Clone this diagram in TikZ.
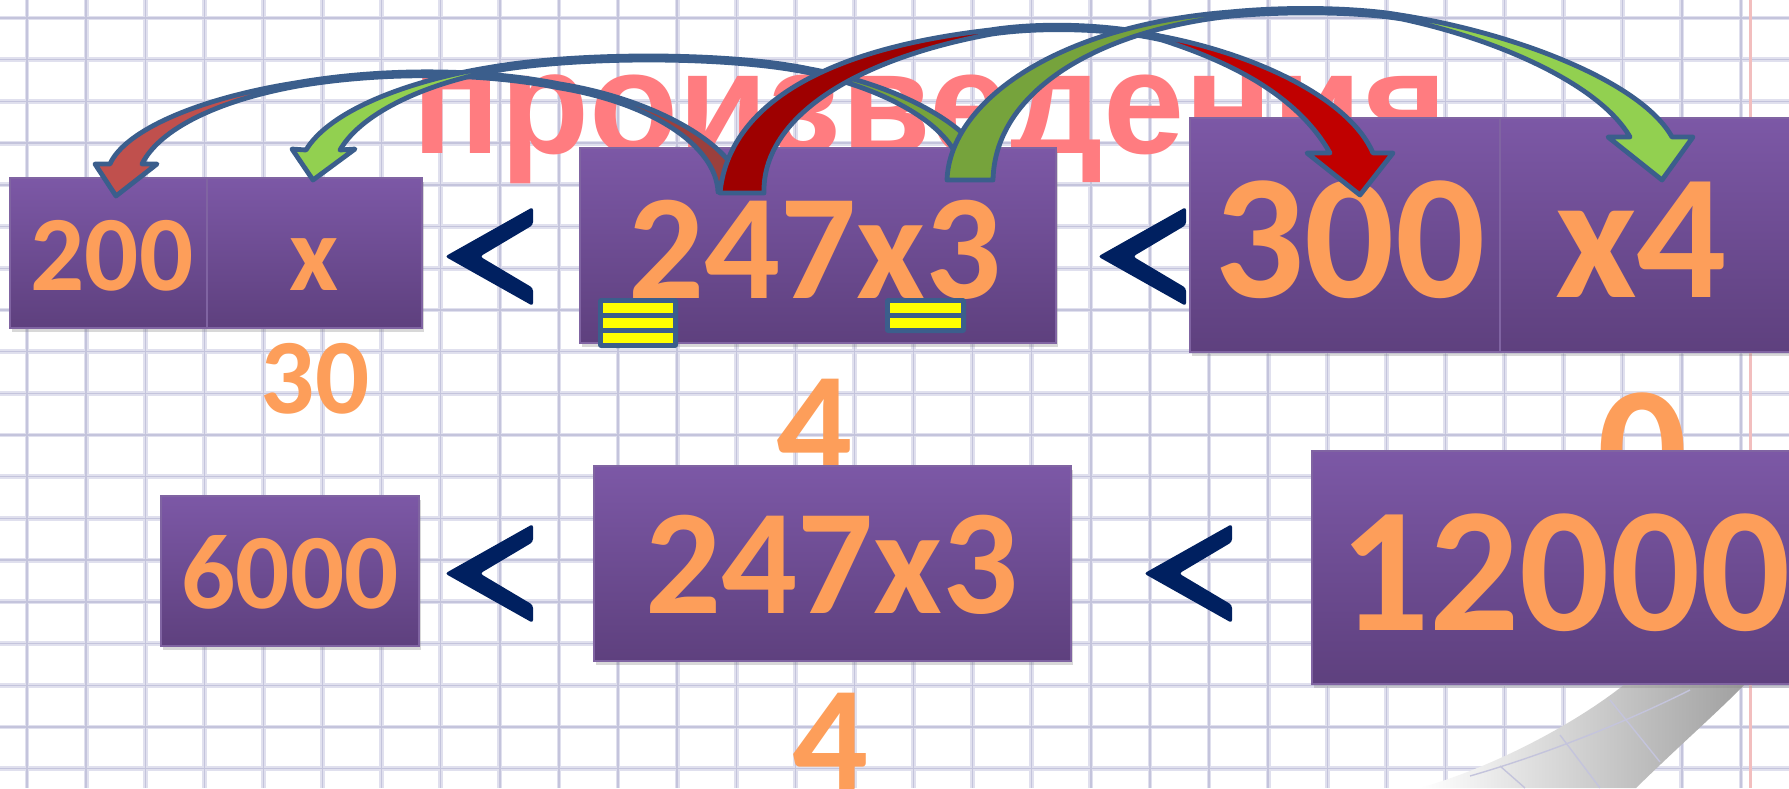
\documentclass[tikz,border=0pt]{standalone}
\usepackage{fontspec}
\newfontfamily\numfont{Carlito}
\newfontfamily\titlefont{Liberation Sans}
\usetikzlibrary{shadows}
\definecolor{boxtop}{RGB}{124,88,166}
\definecolor{boxbot}{RGB}{94,64,126}
\definecolor{boxedge}{RGB}{128,100,162}
\definecolor{numor}{RGB}{253,158,90}
\definecolor{navy}{RGB}{0,32,96}
\definecolor{titlec}{RGB}{255,124,128}
\definecolor{outl}{RGB}{59,94,140}
\definecolor{rAh}{RGB}{192,80,77}
\definecolor{rAt}{RGB}{155,64,61}
\definecolor{gh}{RGB}{146,208,80}
\definecolor{gt}{RGB}{118,163,60}
\definecolor{rCh}{RGB}{192,0,0}
\definecolor{rCt}{RGB}{158,0,0}
\definecolor{gridc}{RGB}{224,224,238}
\definecolor{gridk}{RGB}{196,196,220}
\definecolor{yel}{RGB}{255,255,0}
\definecolor{margc}{RGB}{242,190,190}
\def\aAfull{(742,192) .. controls (742,150) and (660,100) .. (560,84) .. controls (480,68) and (380,68) .. (295,83) .. controls (200,98) and (125,130) .. (110,164) -- (95,164) -- (116,196) -- (157,164) -- (142,164) .. controls (160,128) and (220,100) .. (298,86) .. controls (380,72) and (480,72) .. (560,88) .. controls (650,103) and (716,145) .. (718,192) -- cycle}
\def\aAtail{(742,192) .. controls (742,150) and (660,100) .. (560,84) -- (560,88) .. controls (650,103) and (716,145) .. (718,192) -- cycle}
\def\aBfull{(990,178) .. controls (985,130) and (900,85) .. (810,69) .. controls (730,52) and (580,52) .. (492,67) .. controls (410,80) and (330,110) .. (306,150) -- (292,149) -- (313,180) -- (355,149) -- (340,150) .. controls (360,115) and (420,85) .. (494,71) .. controls (580,56) and (730,56) .. (810,73) .. controls (890,90) and (962,130) .. (962,178) -- cycle}
\def\aBtail{(990,178) .. controls (985,130) and (900,85) .. (810,69) -- (810,73) .. controls (890,90) and (962,130) .. (962,178) -- cycle}
\def\aCfull{(720,193) .. controls (728,110) and (815,50) .. (990,30) .. controls (1040,22) and (1110,24) .. (1160,36) .. controls (1260,55) and (1350,100) .. (1373,153) -- (1393,153) -- (1360,195) -- (1307,153) -- (1330,153) .. controls (1300,100) and (1240,65) .. (1162,40) .. controls (1110,28) and (1040,27) .. (992,34) .. controls (850,60) and (762,120) .. (764,193) -- cycle}
\def\aCtail{(720,193) .. controls (728,110) and (815,50) .. (990,30) -- (992,34) .. controls (850,60) and (762,120) .. (764,193) -- cycle}
\def\aDfull{(947,180) .. controls (950,100) and (1060,25) .. (1230,12) .. controls (1290,6) and (1360,8) .. (1400,15) .. controls (1510,32) and (1640,80) .. (1672,137) -- (1693,137) -- (1662,180) -- (1608,137) -- (1630,137) .. controls (1600,85) and (1500,40) .. (1402,19) .. controls (1360,12) and (1290,11) .. (1232,16) .. controls (1100,30) and (995,90) .. (993,180) -- cycle}
\def\aDtail{(947,180) .. controls (950,100) and (1060,25) .. (1230,12) -- (1232,16) .. controls (1100,30) and (995,90) .. (993,180) -- cycle}
\newcommand\lessign[2]{\fill[navy, rounded corners=1.5pt] (#1+88,#2) -- (#1,#2+49.5) -- (#1+88,#2+99) -- (#1+88,#2+81) -- (#1+35,#2+49.5) -- (#1+88,#2+18) -- cycle;}
\begin{document}
\begin{tikzpicture}[x=0.5pt,y=-0.5pt,
  box/.style={draw=boxedge, line width=0.6pt, top color=boxtop, bottom color=boxbot, anchor=north west, inner sep=0pt, outer sep=0pt, drop shadow={opacity=0.3, shadow xshift=0.8pt, shadow yshift=-1.8pt}},
  nsmall/.style={text=numor, inner sep=0pt, anchor=base, font={\numfont\bfseries\fontsize{53.5pt}{60pt}\selectfont}},
  nmid/.style={text=numor, inner sep=0pt, anchor=base, font={\numfont\bfseries\fontsize{75pt}{80pt}\selectfont}},
  nbig/.style={text=numor, inner sep=0pt, anchor=base, font={\numfont\bfseries\fontsize{89pt}{96pt}\selectfont}},
  titlet/.style={text=titlec, inner sep=0pt, anchor=base west, font={\titlefont\bfseries\fontsize{73pt}{80pt}\selectfont}},
  arrowline/.style={draw=outl, line width=2.4pt, line join=round},
  gridhalo/.style={draw=gridc, line width=2.4pt},
  gridcore/.style={draw=gridk, line width=0.7pt}]
\useasboundingbox (0,0) rectangle (1789,788);
\clip (0,0) rectangle (1789,788);
\fill[white] (0,0) rectangle (1789,788);
% grid
\foreach \i in {0,...,30} {\draw[gridhalo] ({27+59.1*\i},0) -- ({27+59.1*\i},788);}
\foreach \j in {0,...,18} {\draw[gridhalo] (0,{18+41.7*\j}) -- (1789,{18+41.7*\j});}
\foreach \i in {0,...,30} {\draw[gridcore] ({27+59.1*\i},0) -- ({27+59.1*\i},788);}
\foreach \j in {0,...,18} {\draw[gridcore] (0,{18+41.7*\j}) -- (1789,{18+41.7*\j});}
\draw[margc, line width=1.5pt] (1750,0) -- (1750,788);
% page curl
\shade[left color=white, middle color={rgb,255:red,235;green,235;blue,235}, right color={rgb,255:red,160;green,160;blue,160}] (1625,684) .. controls (1580,720) and (1500,765) .. (1420,788) -- (1636,788) .. controls (1680,745) and (1720,710) .. (1745,684) -- cycle;
\draw[gridk, line width=0.7pt] (1560,735) -- (1600,788);
\draw[gridk, line width=0.7pt] (1610,700) -- (1660,762);
\draw[gridk, line width=0.7pt] (1500,766) -- (1525,788);
\draw[gridk, line width=0.7pt] (1470,776) .. controls (1560,750) and (1640,715) .. (1690,690);
% title
\node[titlet] (title) at (412,153) {произведения};
% wrapped lines
\node[nsmall] (t30) at (315,413) {30};
\node[nmid] (t4a) at (815,476) {4};
\node[nbig] (t0) at (1643,509) {0};
\node[nmid] (t4b) at (831,790) {4};
% boxes
\node[box, minimum width=197*0.5pt, minimum height=150*0.5pt] (b200) at (10,178) {};
\node[box, minimum width=215*0.5pt, minimum height=150*0.5pt] (bx) at (207,178) {};
\node[box, minimum width=476*0.5pt, minimum height=195*0.5pt] (b247a) at (580,148) {};
\node[box, minimum width=310*0.5pt, minimum height=234*0.5pt] (b300) at (1190,118) {};
\node[box, minimum width=300*0.5pt, minimum height=234*0.5pt] (bx4) at (1500,118) {};
\node[box, minimum width=258*0.5pt, minimum height=150*0.5pt] (b6000) at (161,496) {};
\node[box, minimum width=477*0.5pt, minimum height=195*0.5pt] (b247b) at (594,466) {};
\node[box, minimum width=490*0.5pt, minimum height=233*0.5pt] (b12000) at (1312,451) {};
% box texts
\node[nsmall] (t200) at (112,290) {200};
\node[nsmall] (tx) at (314,290) {x};
\node[nmid] (t247a) at (815,298) {247x3};
\node[nbig] (t300) at (1350,297) {300};
\node[nbig] (tx4) at (1641,297) {x4};
\node[nsmall] (t6000) at (290,608) {6000};
\node[nmid] (t247b) at (832,613) {247x3};
\node[nbig] (t12000) at (1565,630) {12000};
% less-than signs
\lessign{445}{207}
\lessign{1098}{207}
\lessign{445}{524}
\lessign{1144}{524}
% arrows
\fill[rAh] \aAfull; \fill[rAt] \aAtail; \draw[arrowline] \aAfull;
\fill[gh] \aBfull; \fill[gt] \aBtail; \draw[arrowline] \aBfull;
\fill[rCh] \aCfull; \fill[rCt] \aCtail; \draw[arrowline] \aCfull;
\fill[gh] \aDfull; \fill[gt] \aDtail; \draw[arrowline] \aDfull;
% equal-sign icons
\fill[outl, rounded corners=1.5pt] (598,298) rectangle (678,348);
\fill[yel] (603,303) rectangle (673,313);
\fill[yel] (603,318) rectangle (673,328);
\fill[yel] (603,333) rectangle (673,343);
\fill[outl, rounded corners=1.5pt] (885,298) rectangle (966,333);
\fill[yel] (890,303) rectangle (961,313);
\fill[yel] (890,318) rectangle (961,328);
\end{tikzpicture}
\end{document}
